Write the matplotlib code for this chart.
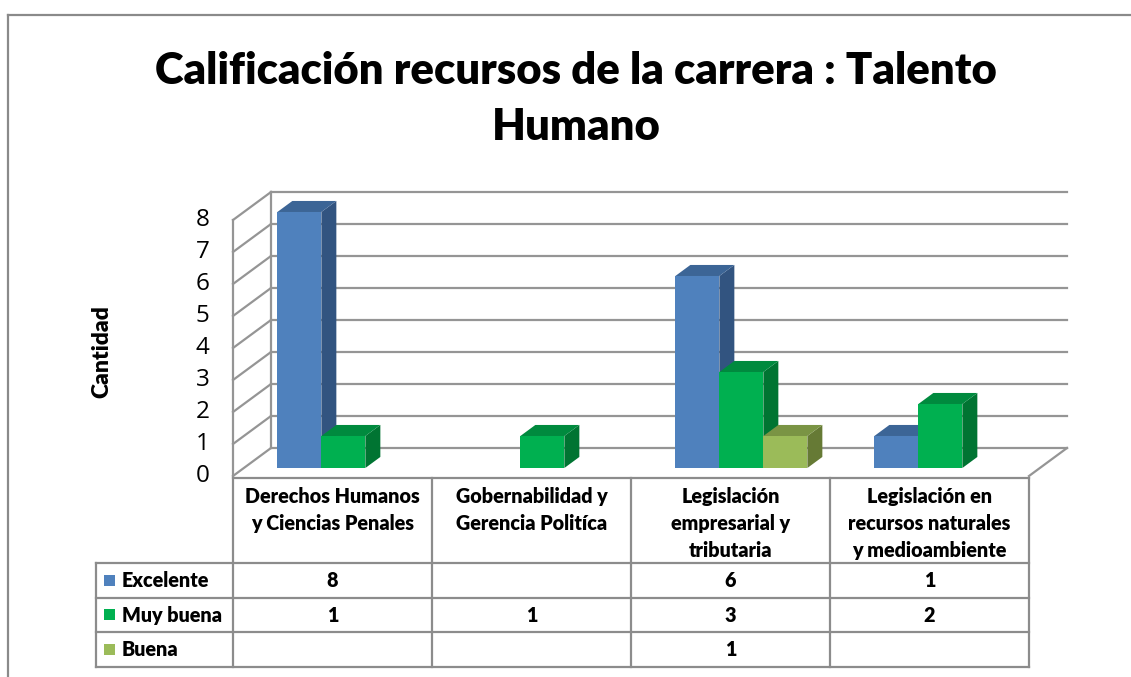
import numpy as np
import matplotlib
matplotlib.use("Agg")
import matplotlib.pyplot as plt
from matplotlib.patches import Polygon, Rectangle
from matplotlib.lines import Line2D

plt.rcParams['font.family'] = ['Lato', 'DejaVu Sans']

# ---------------- data ----------------
title = "Calificación recursos de la carrera : Talento\nHumano"
y_label = "Cantidad"
categories = ["Derechos Humanos\ny Ciencias Penales",
              "Gobernabilidad y\nGerencia Politíca",
              "Legislación\nempresarial y\ntributaria",
              "Legislación en\nrecursos naturales\ny medioambiente"]
series_names = ["Excelente", "Muy buena", "Buena"]
excelente = [8, np.nan, 6, 1]
muy_buena = [1, 1, 3, 2]
buena = [np.nan, np.nan, 1, np.nan]
y_ticks = [0, 1, 2, 3, 4, 5, 6, 7, 8]

series_values = [excelente, muy_buena, buena]
# front, top, side colours
front_cols = ["#4F81BD", "#00B050", "#9BBB59"]
top_cols = ["#3C6596", "#008A3E", "#7A9444"]
side_cols = ["#325480", "#007432", "#667A35"]

W, H = 1131, 677
fig = plt.figure(figsize=(W / 100, H / 100), dpi=100)
fig.patch.set_facecolor("white")

def fx(px):
    return px / W

def fy(py):
    return 1 - py / H

grid_col = "#959595"
TW = 'heavy'

# outer chart border (top and left)
fig.add_artist(Line2D([fx(8), fx(W)], [fy(15), fy(15)], color="#8A8A8A", lw=1.6, transform=fig.transFigure))
fig.add_artist(Line2D([fx(8), fx(8)], [fy(15), fy(H)], color="#8A8A8A", lw=1.6, transform=fig.transFigure))

# ---------------- main 3D-like axes ----------------
ncat = len(categories)
ymax = y_ticks[-1]
ax = fig.add_axes([fx(233), fy(476), fx(1029) - fx(233), fy(220) - fy(476)])
ax.set_xlim(0, ncat)
ax.set_ylim(0, ymax)
ax.patch.set_alpha(0)
for s in ax.spines.values():
    s.set_visible(False)
ax.set_xticks([])
ax.set_yticks(y_ticks)
ax.set_yticklabels([str(t) for t in y_ticks], fontsize=17.5, family=['Open Sans', 'DejaVu Sans'])
ax.tick_params(axis='y', length=0, pad=17)
for lab in ax.get_yticklabels():
    lab.set_va('center')

DX = 0.191   # depth offset in category units
DY = 0.875   # depth offset in value units

# back wall gridlines
for v in y_ticks:
    ax.plot([DX, ncat + DX], [v + DY, v + DY], color=grid_col, lw=1.6, clip_on=False, zorder=1)
    ax.plot([0, DX], [v, v + DY], color=grid_col, lw=1.6, clip_on=False, zorder=1)
ax.plot([0, 0], [0, ymax], color=grid_col, lw=1.6, clip_on=False, zorder=1)
ax.plot([DX, DX], [DY, ymax + DY], color=grid_col, lw=1.6, clip_on=False, zorder=1)
ax.plot([ncat, ncat + DX], [0, DY], color=grid_col, lw=1.6, clip_on=False, zorder=1)

# bars
nser = len(series_values)
bw = 44 / 199
d_f, d_b = 0.286, 0.68
z = 3
for i in range(ncat):
    for j in range(nser):
        v = series_values[j][i]
        if np.isnan(v):
            continue
        x0 = i + 0.5 + (j - nser / 2) * bw
        oxf, oyf = DX * d_f, DY * d_f
        oxb, oyb = DX * d_b, DY * d_b
        front = Rectangle((x0 + oxf, oyf), bw, v, facecolor=front_cols[j], edgecolor='none', zorder=z + 1, clip_on=False)
        side = Polygon([(x0 + bw + oxf, oyf), (x0 + bw + oxb, oyb), (x0 + bw + oxb, v + oyb), (x0 + bw + oxf, v + oyf)],
                       closed=True, facecolor=side_cols[j], edgecolor='none', zorder=z, clip_on=False)
        top = Polygon([(x0 + oxf, v + oyf), (x0 + bw + oxf, v + oyf), (x0 + bw + oxb, v + oyb), (x0 + oxb, v + oyb)],
                      closed=True, facecolor=top_cols[j], edgecolor='none', zorder=z, clip_on=False)
        ax.add_patch(side)
        ax.add_patch(top)
        ax.add_patch(front)
        z += 2

# ---------------- data table ----------------
tax = fig.add_axes([fx(233), fy(667), fx(1029) - fx(233), fy(478) - fy(667)])
tax.set_xlim(0, ncat)
tax.set_ylim(189, 0)
tax.axis('off')
row_edges = [0, 85, 119.5, 154, 189]
leg_left = (96 - 233) / 199
tcol = "#8C8C8C"
tlw = 1.6
# horizontal lines
tax.plot([0, ncat], [row_edges[0]] * 2, color=tcol, lw=tlw, clip_on=False)
for r in row_edges[1:]:
    tax.plot([leg_left, ncat], [r, r], color=tcol, lw=tlw, clip_on=False)
# vertical lines
for c in range(ncat + 1):
    tax.plot([c, c], [row_edges[0], row_edges[-1]], color=tcol, lw=tlw, clip_on=False)
tax.plot([leg_left, leg_left], [row_edges[1], row_edges[-1]], color=tcol, lw=tlw, clip_on=False)

fs_tab = 14.2
for i, cat in enumerate(categories):
    tax.text(i + 0.5, 9, cat, ha='center', va='top', fontsize=fs_tab, fontweight=TW,
             linespacing=1.5, clip_on=False)
for j, name in enumerate(series_names):
    yc = (row_edges[j + 1] + row_edges[j + 2]) / 2
    tax.add_patch(Rectangle((leg_left + 8 / 199, yc - 5.5), 11 / 199, 11, facecolor=front_cols[j],
                            edgecolor='none', clip_on=False))
    tax.text(leg_left + 26 / 199, yc + 0.5, name, ha='left', va='center', fontsize=fs_tab,
             fontweight=TW, clip_on=False)
    for i in range(ncat):
        v = series_values[j][i]
        if not np.isnan(v):
            tax.text(i + 0.5, yc + 0.5, f"{int(v)}", ha='center', va='center', fontsize=fs_tab,
                     fontweight=TW, clip_on=False)

# y label
fig.text(fx(102), fy(352), y_label, rotation=90, ha='center', va='center', fontsize=16.5, fontweight=TW)

# title (fit width)
t = fig.text(fx(576), fy(99), title, ha='center', va='center', fontsize=27, fontweight=TW, linespacing=1.48)
fig.canvas.draw()
w = t.get_window_extent().width
t.set_fontsize(27 * 843 / w)

fig.savefig("out.png", dpi=100, facecolor="white")
